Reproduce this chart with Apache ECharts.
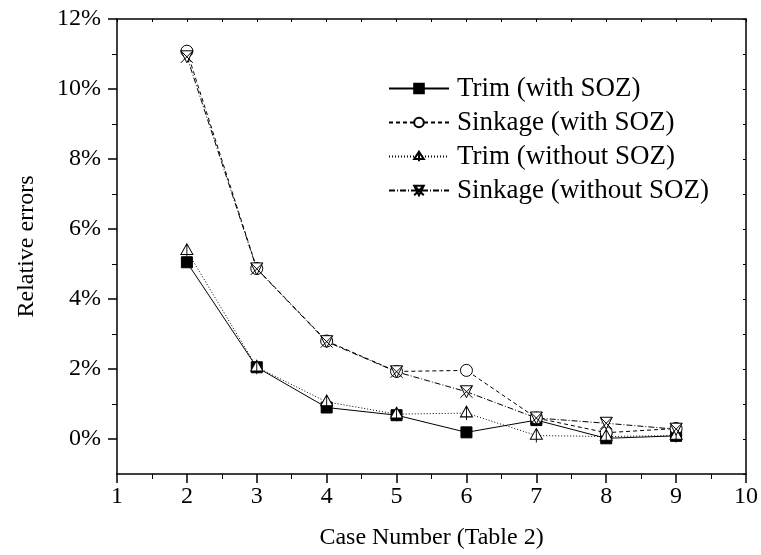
<!DOCTYPE html>
<html>
<head>
<meta charset="utf-8">
<script src="https://cdn.jsdelivr.net/npm/echarts@6/dist/echarts.min.js"></script>
<style>html,body{margin:0;padding:0;background:#fff;}#chart{width:761px;height:555px;}</style>
</head>
<body>
<div id="chart"></div>
<script>
const cases = [2, 3, 4, 5, 6, 7, 8, 9];
const trimWithSOZ = [5.05, 2.05, 0.90, 0.68, 0.19, 0.54, 0.02, 0.09];
const sinkageWithSOZ = [11.08, 4.87, 2.80, 1.93, 1.96, 0.60, 0.18, 0.30];
const trimWithoutSOZ = [5.38, 2.05, 1.06, 0.71, 0.74, 0.10, 0.07, 0.10];
const sinkageWithoutSOZ = [10.92, 4.86, 2.78, 1.92, 1.35, 0.60, 0.45, 0.28];
const seriesNames = ['Trim (with SOZ)', 'Sinkage (with SOZ)', 'Trim (without SOZ)', 'Sinkage (without SOZ)'];
const yMajorTicks = [0, 2, 4, 6, 8, 10, 12];
const yMinorTicks = [1, 3, 5, 7, 9, 11];

const FONT = 'Liberation Serif';
const pair = arr => cases.map((c, i) => [c, arr[i]]);

const triSym = 'path://M6,0 L12,10 L0,10 Z M6,0 L6,13';
const crossSym = 'path://M0,0 L12,0 L6,12 Z M0,0 L12,12 M12,0 L0,12';

function mk(name, data, symbol, size, fill, lineType) {
  return {
    name: name, type: 'line', data: pair(data),
    symbol: symbol, symbolSize: size, showSymbol: true,
    lineStyle: {color: '#000', width: 1, type: lineType},
    itemStyle: {color: fill, borderColor: '#000', borderWidth: 1},
    emphasis: {disabled: true}, animation: false, z: 3
  };
}

const chart = echarts.init(document.getElementById('chart'));
chart.setOption({
  backgroundColor: '#fff',
  animation: false,
  grid: {left: 117, right: 15, top: 19, bottom: 80},
  legend: {
    left: 388, top: 75, orient: 'vertical', padding: 0,
    itemWidth: 60, itemHeight: 12, itemGap: 7,
    textStyle: {fontFamily: FONT, fontSize: 27, color: '#000', lineHeight: 26, padding: [0, 0, 0, 3]},
    data: seriesNames
  },
  xAxis: [{
    type: 'value', position: 'bottom', min: 1, max: 10, interval: 1,
    axisLine: {show: true, onZero: false, lineStyle: {color: '#000', width: 1.5}},
    axisTick: {show: true, inside: false, length: 9, lineStyle: {color: '#000', width: 1.5}},
    minorTick: {show: true, splitNumber: 2, length: 5, lineStyle: {color: '#000', width: 1}},
    axisLabel: {fontFamily: FONT, fontSize: 24, color: '#000', margin: 11},
    splitLine: {show: false},
    name: 'Case Number (Table 2)', nameLocation: 'middle', nameGap: 52,
    nameTextStyle: {fontFamily: FONT, fontSize: 24, color: '#000'}
  }, {
    type: 'value', position: 'top', min: 1, max: 10, interval: 0.5,
    axisLine: {show: true, onZero: false, lineStyle: {color: '#000', width: 1.5}},
    axisTick: {show: true, inside: true, length: 3, lineStyle: {color: '#000', width: 1}},
    axisLabel: {show: false}, splitLine: {show: false}
  }],
  yAxis: [{
    type: 'value', position: 'left', min: -1, max: 12, interval: 1,
    axisLine: {show: true, onZero: false, lineStyle: {color: '#000', width: 1.5}},
    axisTick: {show: true, inside: false, length: 9, customValues: yMajorTicks, lineStyle: {color: '#000', width: 1.5}},
    axisLabel: {fontFamily: FONT, fontSize: 24, color: '#000', margin: 16, customValues: yMajorTicks,
      formatter: v => Math.round(v) + '%'},
    splitLine: {show: false},
    name: 'Relative errors', nameLocation: 'middle', nameGap: 78, nameRotate: 90,
    nameTextStyle: {fontFamily: FONT, fontSize: 24, color: '#000'}
  }, {
    type: 'value', position: 'left', min: -1, max: 12, interval: 1,
    axisLine: {show: false, onZero: false},
    axisTick: {show: true, inside: false, length: 5, customValues: yMinorTicks, lineStyle: {color: '#000', width: 1}},
    axisLabel: {show: false}, splitLine: {show: false}
  }, {
    type: 'value', position: 'right', min: -1, max: 12, interval: 1,
    axisLine: {show: true, onZero: false, lineStyle: {color: '#000', width: 1.5}},
    axisTick: {show: true, inside: true, length: 3, lineStyle: {color: '#000', width: 1}},
    axisLabel: {show: false}, splitLine: {show: false}
  }],
  series: [
    mk(seriesNames[0], trimWithSOZ, 'rect', 11, '#000', 'solid'),
    mk(seriesNames[1], sinkageWithSOZ, 'circle', 12, '#fff', [4, 3]),
    mk(seriesNames[2], trimWithoutSOZ, triSym, [12, 14], '#fff', [1, 2]),
    mk(seriesNames[3], sinkageWithoutSOZ, crossSym, 12, '#fff', [6, 2, 1, 2])
  ]
});
</script>
</body>
</html>
